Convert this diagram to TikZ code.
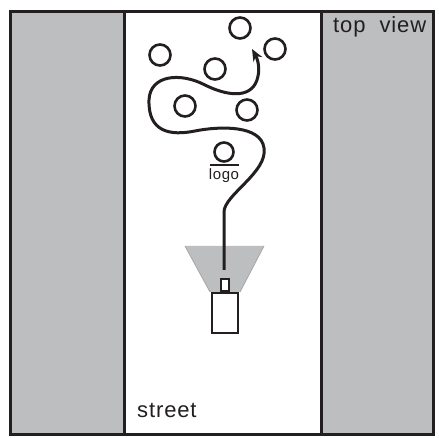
\documentclass[tikz,border=0pt]{standalone}
\usepackage{fontspec}
\setmainfont{Liberation Sans}[LetterSpace=4]
\usetikzlibrary{arrows.meta}
\definecolor{bldg}{HTML}{BCBEC0}
\definecolor{ink}{HTML}{231F20}
\tikzset{
  wall/.style={draw=ink, line width=3pt, fill=bldg},
  obst/.style={draw=ink, line width=2.6pt, circle, minimum size=21pt, inner sep=0pt},
  pathline/.style={draw=ink, line width=3pt, -{Stealth[length=12pt,width=10pt]}},
  lbl/.style={font=\fontsize{22}{22}\selectfont, text=ink, inner sep=0pt},
}
\begin{document}
\begin{tikzpicture}[x=1pt,y=-1pt]
\useasboundingbox (0,0) rectangle (439,438);
% buildings and street
\path[fill=white] (10,12) rectangle (433,434);
\draw[wall] (10,12) rectangle (124,434);
\draw[wall] (321,12) rectangle (433,434);
\draw[draw=ink, line width=3pt] (10,12) rectangle (433,434);
\node[lbl, anchor=base west] (street) at (137,417) {street};
\node[lbl, anchor=base west] (top) at (333,33) {top\ \ view};
% obstacles
\node[obst] (c1) at (240,28) {};
\node[obst] (c2) at (160,55) {};
\node[obst] (c3) at (275,49) {};
\node[obst] (c4) at (215,69) {};
\node[obst] (c5) at (185,106) {};
\node[obst] (c6) at (247,110) {};
% logo
\node[obst, minimum size=19pt] (logo) at (224,152) {};
\coordinate (ul) at (210,165);
\coordinate (ur) at (239,165);
\draw[draw=ink, line width=2pt] (ul) -- (ur);
\node[lbl, font=\fontsize{15}{15}\selectfont, anchor=base] (logotxt) at (224,180) {logo};
% funnel (viewing cone)
\fill[bldg] (185,246) -- (264,246) -- (240,292) -- (210,292) -- cycle;
\draw[draw=gray!70, line width=0.8pt] (185,246) -- (210,292);
\draw[draw=gray!70, line width=0.8pt] (264,246) -- (240,292);
% camera
\node[draw=ink, line width=2pt, fill=white, minimum width=8pt, minimum height=12pt, inner sep=0pt, anchor=south] (lens) at (225,292) {};
\node[draw=ink, line width=2pt, fill=white, minimum width=26pt, minimum height=40pt, inner sep=0pt, anchor=north] (cam) at (225,292) {};
% path
\coordinate (p0) at (224,270);
\coordinate (pend) at (252,49);
\draw[pathline] (p0) -- (224,212)
  .. controls (224,195) and (268,172) .. (264,148)
  .. controls (261,125) and (220,126) .. (195,131)
  .. controls (170,136) and (148,132) .. (149,100)
  .. controls (150,75) and (180,72) .. (205,85)
  .. controls (225,95) and (250,100) .. (257,80)
  .. controls (261,68) and (257,58) .. (pend);
\end{tikzpicture}
\end{document}
